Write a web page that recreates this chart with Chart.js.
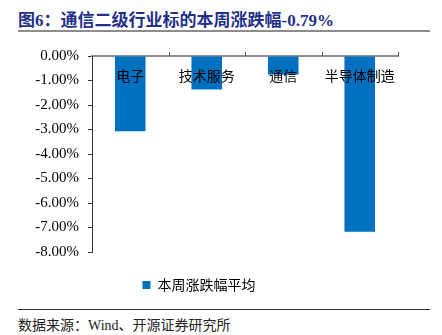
<!DOCTYPE html>
<html>
<head>
<meta charset="utf-8">
<script src="https://cdn.jsdelivr.net/npm/chart.js@4.4.0/dist/chart.umd.min.js"></script>
<style>
  html, body { margin: 0; padding: 0; background: #fff; }
  #wrap { position: relative; width: 442px; height: 335px; overflow: hidden; }
  #title {
    position: absolute; left: 18px; top: 6px;
    font-family: "Liberation Serif", "Noto Sans CJK SC", serif;
    font-weight: bold; font-size: 17px; color: #22308a; white-space: nowrap;
  }
  #titleLine { position: absolute; left: 18px; top: 30px; width: 412px; height: 2px; background: #8c8c8c; }
  #chartBox { position: absolute; left: 0; top: 38px; }
  #footLine { position: absolute; left: 18px; top: 309px; width: 412px; height: 1px; background: #333; }
  #source {
    position: absolute; left: 18px; top: 314px;
    font-family: "Liberation Serif", "Noto Sans CJK SC", serif;
    font-size: 14px; color: #222; white-space: nowrap;
  }
</style>
</head>
<body>
<div id="wrap">
  <div id="title">图6：通信二级行业标的本周涨跌幅-0.79%</div>
  <div id="titleLine"></div>
  <div id="chartBox"><canvas id="grafico" width="442" height="264"></canvas></div>
  <div id="footLine"></div>
  <div id="source">数据来源：Wind、开源证券研究所</div>
</div>
<script>
// 行业分类和本周涨跌幅（%）
const categorias = ['电子', '技术服务', '通信', '半导体制造'];
const valores = [-3.07, -1.37, -0.76, -7.17];
const nomeSerie = '本周涨跌幅平均';
const eixoMin = -8;
const eixoMax = 0;

const fonteCJK = '"Noto Sans CJK SC", sans-serif';

// Pequenas marcas para cima no eixo X (entre categorias)
const marcasTopo = {
    id: 'marcasTopo',
    afterDraw(chart) {
        const xs = chart.scales.x;
        const y0 = chart.scales.y.getPixelForValue(0);
        const c = chart.ctx;
        c.save();
        c.strokeStyle = '#555';
        c.lineWidth = 1;
        const passo = xs.width / categorias.length;
        for (let i = 1; i <= categorias.length; i++) {
            const x = Math.round(xs.left + i * passo) + 0.5;
            c.beginPath();
            c.moveTo(x, y0 - 4);
            c.lineTo(x, y0);
            c.stroke();
        }
        c.restore();
    }
};

const ctx = document.getElementById('grafico').getContext('2d');

new Chart(ctx, {
    type: 'bar',
    data: {
        labels: categorias,
        datasets: [{
            label: nomeSerie,
            data: valores,
            backgroundColor: '#0070c0',
            borderWidth: 0,
            barPercentage: 0.4,
            categoryPercentage: 1
        }]
    },
    options: {
        responsive: false,
        animation: false,
        layout: { padding: { top: 15, right: 44, left: 0, bottom: 0 } },
        scales: {
            x: {
                position: { y: 0 },
                grid: { display: false, drawTicks: false },
                border: { display: true, color: '#8c8c8c', width: 2 },
                ticks: {
                    z: 1,
                    padding: 11,
                    color: '#000',
                    font: { family: fonteCJK, size: 14 }
                }
            },
            y: {
                min: eixoMin,
                max: eixoMax,
                afterFit(scale) { scale.width = 92; },
                grid: { drawOnChartArea: false, drawTicks: true, tickLength: 4, color: '#333' },
                border: { display: true, color: '#333', width: 1 },
                ticks: {
                    stepSize: 1,
                    padding: 9,
                    color: '#000',
                    font: { family: '"Liberation Serif", serif', size: 15 },
                    callback: v => v.toFixed(2) + '%'
                }
            }
        },
        plugins: {
            legend: {
                position: 'bottom',
                labels: {
                    boxWidth: 8,
                    boxHeight: 8,
                    padding: 26,
                    color: '#000',
                    font: { family: fonteCJK, size: 14 }
                }
            },
            tooltip: { enabled: false }
        }
    },
    plugins: [marcasTopo]
});
</script>
</body>
</html>
